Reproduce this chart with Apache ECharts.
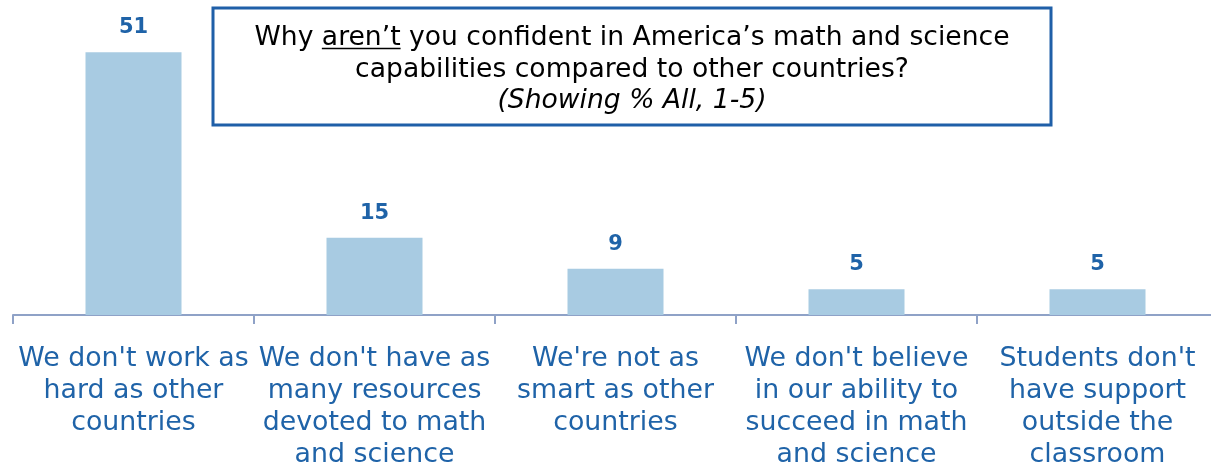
<!DOCTYPE html>
<html>
<head>
<meta charset="utf-8">
<script src="https://cdn.jsdelivr.net/npm/echarts@6/dist/echarts.min.js"></script>
<style>
html,body{margin:0;padding:0;background:#fff;overflow:hidden;}
#main{width:1218px;height:471px;}
</style>
</head>
<body>
<div id="main"></div>
<script>
const categories = [
  "We don't work as\nhard as other\ncountries",
  "We don't have as\nmany resources\ndevoted to math\nand science",
  "We're not as\nsmart as other\ncountries",
  "We don't believe\nin our ability to\nsucceed in math\nand science",
  "Students don't\nhave support\noutside the\nclassroom"
];
const values = [51, 15, 9, 5, 5];
const titleLines = [
  "Why aren\u2019t you confident in America\u2019s math and science",
  "capabilities compared to other countries?",
  "(Showing % All, 1-5)"
];

const FONT = "DejaVu Sans";
const BLUE = '#1F63A8';

const cv = document.createElement('canvas').getContext('2d');
const titleSize = 26.6;
cv.font = titleSize + 'px ' + FONT;
const boxL = 213, boxT = 8, boxW = 838, boxH = 117;
const cx = boxL + boxW / 2;
const fullW = cv.measureText(titleLines[0]).width;
const preW = cv.measureText("Why ").width;
const wordW = cv.measureText("aren\u2019t").width;
const ulX = cx - fullW / 2 + preW;

const chart = echarts.init(document.getElementById('main'), null, {renderer: 'canvas'});
chart.setOption({
  animation: false,
  grid: {left: 13, right: 0, top: 6, bottom: 156, containLabel: false},
  xAxis: {
    type: 'category',
    data: categories,
    axisLine: {lineStyle: {color: '#8FA2C7', width: 2}},
    axisTick: {show: true, length: 9, lineStyle: {color: '#8FA2C7', width: 2}},
    axisLabel: {
      interval: 0, margin: 28, color: BLUE, fontFamily: FONT, fontSize: 26.8,
      lineHeight: 32, align: 'center'
    }
  },
  yAxis: {type: 'value', min: 0, max: 60, show: false, splitLine: {show: false}},
  series: [{
    type: 'bar',
    data: values,
    barWidth: 96,
    itemStyle: {color: '#A8CBE2'},
    label: {
      show: true, position: 'top', distance: 14,
      color: BLUE, fontFamily: FONT, fontWeight: 'bold', fontSize: 21
    }
  }],
  graphic: [
    {type: 'rect', shape: {x: boxL, y: boxT, width: boxW, height: boxH},
     style: {fill: '#fff', stroke: '#1F5FA8', lineWidth: 3}, z: 10},
    {type: 'text', x: cx, y: 38, z: 11,
     style: {text: titleLines[0], font: titleSize + 'px ' + FONT, fill: '#000', align: 'center', verticalAlign: 'middle'}},
    {type: 'line', z: 11, shape: {x1: ulX, y1: 48.5, x2: ulX + wordW, y2: 48.5},
     style: {stroke: '#000', lineWidth: 1.5}},
    {type: 'text', x: cx, y: 70, z: 11,
     style: {text: titleLines[1], font: titleSize + 'px ' + FONT, fill: '#000', align: 'center', verticalAlign: 'middle'}},
    {type: 'text', x: cx, y: 101, z: 11,
     style: {text: titleLines[2], font: 'italic ' + titleSize + 'px ' + FONT, fill: '#000', align: 'center', verticalAlign: 'middle'}}
  ]
});
</script>
</body>
</html>
